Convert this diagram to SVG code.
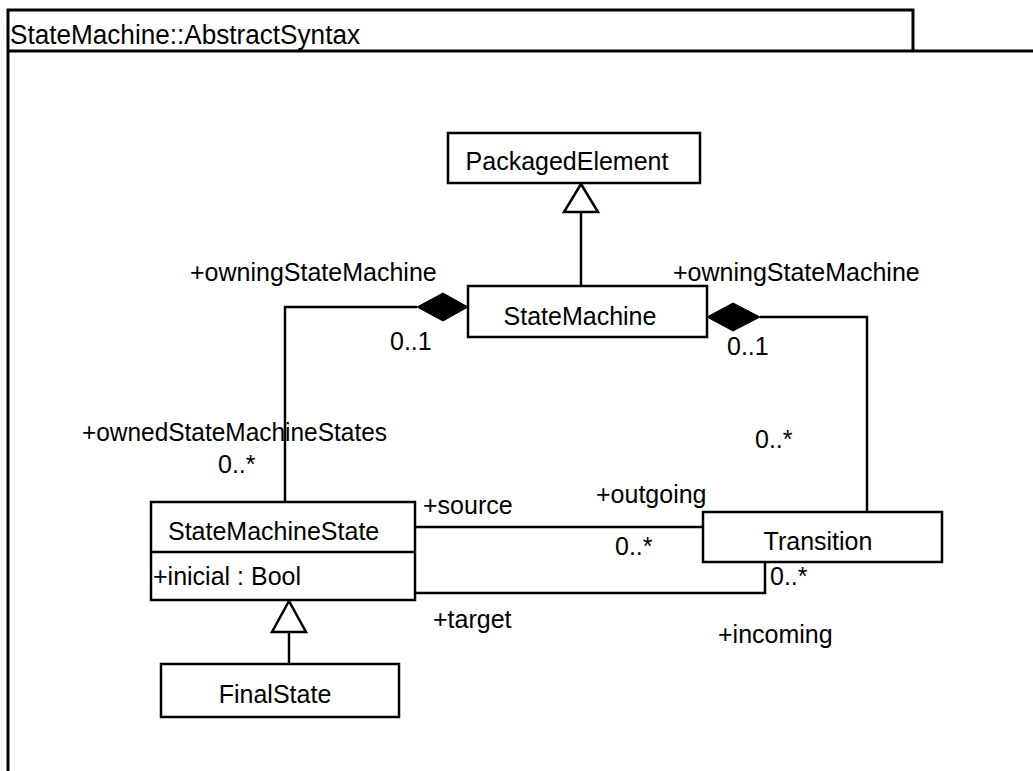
<svg xmlns="http://www.w3.org/2000/svg" width="1033" height="771" viewBox="0 0 1033 771">
<style>
  text { font-family: "Liberation Sans", Arial, sans-serif; font-size: 25px; fill: #000; }
  .box { fill: #fff; stroke: #000; stroke-width: 2.5; }
  .ln { fill: none; stroke: #000; stroke-width: 2.5; }
  .frame { fill: none; stroke: #000; stroke-width: 3; }
</style>
<rect width="1033" height="771" fill="#fff"/>
<g id="package">
  <path class="frame" d="M8,771 V10 H913 V51"/>
  <line class="frame" x1="8" y1="51" x2="1033" y2="51"/>
  <text x="10" y="44" style="font-size:27px" textLength="350" lengthAdjust="spacingAndGlyphs">StateMachine::AbstractSyntax</text>
</g>
<g id="connectors">
  <line class="ln" x1="581" y1="212" x2="581" y2="286"/>
  <polygon class="box" points="581,184 564,212 598,212"/>
  <path class="ln" d="M417,307 H285 V502"/>
  <polygon points="468,307 443,293 417,307 443,321" fill="#000" stroke="#000" stroke-width="1"/>
  <path class="ln" d="M760,317 H867 V512"/>
  <polygon points="707,317 733,303 760,317 733,331" fill="#000" stroke="#000" stroke-width="1"/>
  <line class="ln" x1="415" y1="527" x2="703" y2="527"/>
  <path class="ln" d="M415,593 H765 V562"/>
  <line class="ln" x1="289" y1="632" x2="289" y2="664"/>
  <polygon class="box" points="289,601 272,632 306,632"/>
</g>
<g id="labels">
  <text x="190" y="281">+owningStateMachine</text>
  <text x="390" y="350">0..1</text>
  <text x="673" y="281">+owningStateMachine</text>
  <text x="727" y="355">0..1</text>
  <text x="82" y="441" textLength="305" lengthAdjust="spacingAndGlyphs">+ownedStateMachineStates</text>
  <text x="218" y="473">0..*</text>
  <text x="755" y="448">0..*</text>
  <text x="423" y="514">+source</text>
  <text x="596" y="503">+outgoing</text>
  <text x="615" y="555">0..*</text>
  <text x="770" y="585">0..*</text>
  <text x="433" y="628">+target</text>
  <text x="718" y="643">+incoming</text>
</g>
<g id="PackagedElement">
  <rect class="box" x="448" y="133" width="252" height="50"/>
  <text x="567" y="170" text-anchor="middle">PackagedElement</text>
</g>
<g id="StateMachine">
  <rect class="box" x="468" y="286" width="239" height="51"/>
  <text x="580" y="325" text-anchor="middle">StateMachine</text>
</g>
<g id="StateMachineState">
  <rect class="box" x="151" y="502" width="264" height="98"/>
  <line class="ln" x1="151" y1="552" x2="415" y2="552"/>
  <text x="168" y="540">StateMachineState</text>
  <text x="153" y="585">+inicial : Bool</text>
</g>
<g id="Transition">
  <rect class="box" x="703" y="512" width="239" height="50"/>
  <text x="818" y="550" text-anchor="middle">Transition</text>
</g>
<g id="FinalState">
  <rect class="box" x="161" y="664" width="238" height="53"/>
  <text x="275" y="703" text-anchor="middle">FinalState</text>
</g>
</svg>
